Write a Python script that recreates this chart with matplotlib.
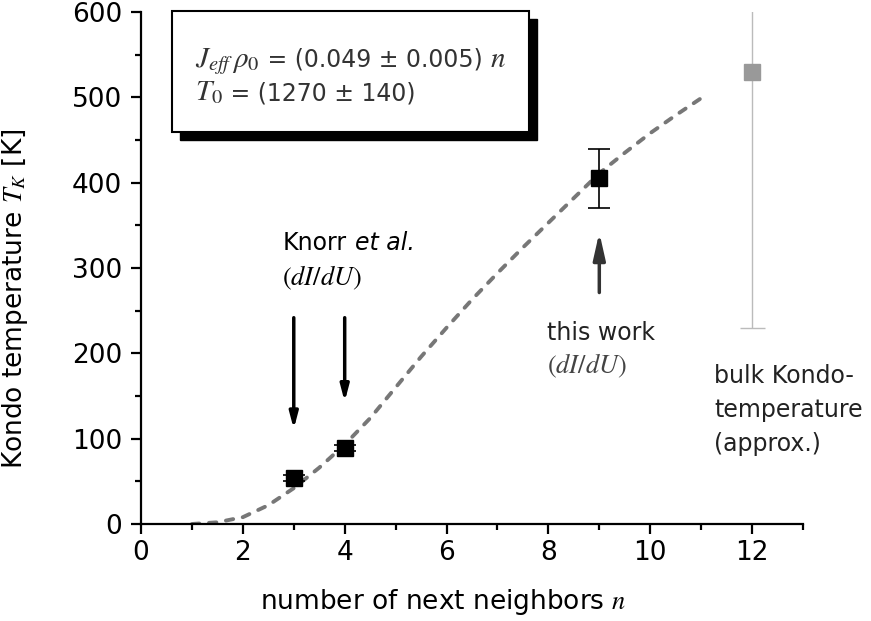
import matplotlib
matplotlib.use("Agg")
import matplotlib.pyplot as plt
from matplotlib.patches import Rectangle

plt.rcParams["font.family"] = ["DejaVu Sans"]
plt.rcParams["mathtext.fontset"] = "stix"

# measured Kondo temperatures (Knorr et al. n=3,4 ; this work n=9)
n_meas = [3, 4, 9]
tk_meas = [54, 89, 405]
tk_err = [4, 4, 35]

# bulk value (approx.), asymmetric error
n_bulk = [12]
tk_bulk = [530]
bulk_err_lo = [300]
bulk_err_hi = [100]

# fit curve
fit_n = [1.0, 1.5, 2.0, 2.5, 3.0, 3.5, 4.0, 4.5, 5.0, 5.5, 6.0,
         6.5, 7.0, 7.5, 8.0, 8.5, 9.0, 9.5, 10.0, 10.5, 11.0]
fit_tk = [0, 2, 8, 22, 42, 66, 93, 124, 160, 196, 230,
          263, 294, 324, 353, 382, 411, 435, 458, 479, 499]


def text_after(fig, ax, prev, s, gap=0, **kw):
    """Put a text right after another one (same baseline, axes coords)."""
    fig.canvas.draw()
    bb = prev.get_window_extent()
    x, _ = ax.transAxes.inverted().transform((bb.x1 + gap, bb.y0))
    y = prev.get_position()[1]
    return ax.text(x, y, s, transform=ax.transAxes, va="baseline", **kw)


fig = plt.figure(figsize=(8.71, 6.21), dpi=100)
ax = fig.add_axes([141 / 871, 97 / 621, 662 / 871, 512 / 621])

ax.plot(fit_n, fit_tk, color="#777777", lw=2.8, ls=(0, (1.9, 2.5)),
        dash_capstyle="round", zorder=2)

ax.errorbar(n_meas, tk_meas, yerr=tk_err, fmt="s", color="black", ms=11,
            ecolor="black", elinewidth=1.2, capsize=8, capthick=1.2, zorder=3)
ax.errorbar(n_bulk, tk_bulk, yerr=[bulk_err_lo, bulk_err_hi], fmt="s",
            color="#999999", ms=12, ecolor="#bbbbbb", elinewidth=1.0,
            capsize=9, capthick=1.0, zorder=3)

ax.set_xlim(0, 13)
ax.set_ylim(0, 600)
ax.set_xticks(range(0, 13, 2))
ax.set_xticks(range(1, 14, 2), minor=True)
ax.set_yticks(range(0, 601, 100))
ax.set_yticks(range(50, 600, 100), minor=True)
for side in ["top", "right"]:
    ax.spines[side].set_visible(False)
for side in ["left", "bottom"]:
    ax.spines[side].set_linewidth(1.6)
ax.tick_params(which="major", length=7.5, width=1.6, labelsize=19)
ax.tick_params(which="minor", length=4.5, width=1.6)
ax.tick_params(axis="y", pad=6)
ax.tick_params(axis="x", pad=4)

ax.set_xlabel("number of next neighbors $n$", fontsize=19)
ax.xaxis.set_label_coords(0.456, -0.123)
ax.set_ylabel("Kondo temperature $T_K$ [K]", fontsize=19)
ax.yaxis.set_label_coords(-0.168, 0.44)

# formula box with drop shadow
ax.add_patch(Rectangle((0.059, 0.75), 0.539, 0.236, transform=ax.transAxes,
                       facecolor="black", edgecolor="black", clip_on=False, zorder=4))
ax.add_patch(Rectangle((0.047, 0.766), 0.539, 0.236, transform=ax.transAxes,
                       facecolor="white", edgecolor="black", lw=1.5, clip_on=False, zorder=5))
box_kw = dict(color="#333333", zorder=6)
t = ax.text(0.082, 0.893, r"$J_{eff}\,\rho_{\mathit{0}}$", transform=ax.transAxes,
            fontsize=21, va="baseline", **box_kw)
t = text_after(fig, ax, t, " = (0.049 ± 0.005) ", fontsize=17, **box_kw)
text_after(fig, ax, t, r"$n$", fontsize=21, **box_kw)
t = ax.text(0.082, 0.828, r"$T_{\mathit{0}}$", transform=ax.transAxes,
            fontsize=21, va="baseline", **box_kw)
text_after(fig, ax, t, " = (1270 ± 140)", fontsize=17, **box_kw)

# annotations
t_knorr = ax.text(2.78, 321, "Knorr", fontsize=17, va="baseline")
fig.canvas.draw()
bb = t_knorr.get_window_extent()
x_end = ax.transData.inverted().transform((bb.x1 + 8, bb.y0))[0]
ax.text(x_end, 321, "et al.", fontsize=17, style="italic", va="baseline")
ax.text(2.76, 288, r"$(dI/dU)$", fontsize=19, va="center")
arrow_k = dict(arrowstyle="-|>,head_length=0.95,head_width=0.25", color="black", lw=2.5)
ax.annotate("", xy=(3, 108), xytext=(3, 245), arrowprops=arrow_k)
ax.annotate("", xy=(4, 140), xytext=(4, 245), arrowprops=arrow_k)

ax.text(7.98, 216, "this work", fontsize=17, color="#222222", va="baseline")
ax.text(7.98, 185, r"$(dI/dU)$", fontsize=19, color="#444444", va="center")
arrow_t = dict(arrowstyle="-|>,head_length=1.6,head_width=0.36", color="#333333", lw=2.5)
ax.annotate("", xy=(9, 345), xytext=(9, 268), arrowprops=arrow_t)

ax.text(11.25, 188, "bulk Kondo-\ntemperature\n(approx.)", fontsize=17,
        color="#222222", va="top", linespacing=1.55)

fig.savefig("out.png", dpi=100)
